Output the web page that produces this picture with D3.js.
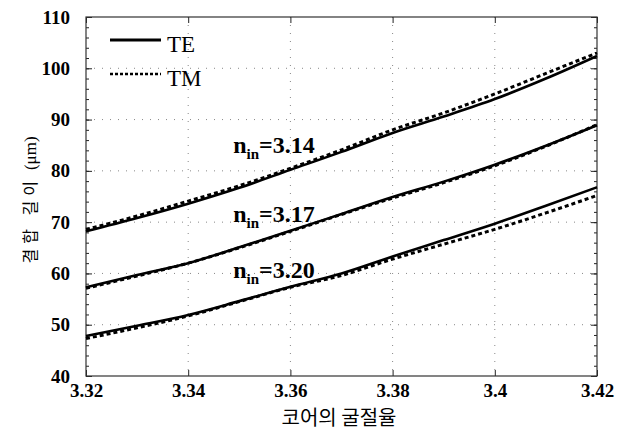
<!DOCTYPE html>
<html><head><meta charset="utf-8">
<script src="https://cdn.jsdelivr.net/npm/d3@7"></script>
<style>body{margin:0;background:#fff;-webkit-font-smoothing:antialiased}svg{display:block}</style>
</head><body>
<svg id="c" width="626" height="437"></svg>
<script>
const xValues = [3.32,3.33,3.34,3.35,3.36,3.37,3.38,3.39,3.40,3.41,3.42];
const te314 = [68.2,70.8,73.6,76.7,80.2,83.7,87.4,90.6,94.0,98.0,102.4];
const tm314 = [68.6,71.2,74.1,77.1,80.5,84.1,88.0,91.3,95.0,99.0,103.0];
const te317 = [57.3,59.7,62.0,65.1,68.3,71.6,74.9,77.9,81.2,84.9,88.9];
const tm317 = [57.1,59.5,62.0,65.0,68.2,71.5,74.7,77.7,81.0,84.8,89.0];
const te320 = [47.8,49.8,51.9,54.6,57.4,60.0,63.3,66.5,69.7,73.2,76.8];
const tm320 = [47.3,49.4,51.7,54.5,57.3,59.6,62.8,65.7,68.6,71.8,75.2];
const xTicks = [3.32,3.34,3.36,3.38,3.40,3.42];
const xTickLabels = ["3.32","3.34","3.36","3.38","3.4","3.42"];
const yTicks = [40,50,60,70,80,90,100,110];
const legendNames = ["TE","TM"];
const annoLabels = ["3.14","3.17","3.20"];
const annoAt = [[3.3488,83.4],[3.3488,70.1],[3.3488,59.1]];
const xTitle = "코어의 굴절율";
const yTitleKo = "결합 길이";
const yTitleUnit = "(μm)";

const svg = d3.select("#c");
const L=86,R=597,T=17,B=376;
const x = d3.scaleLinear().domain([3.32,3.42]).range([L,R]);
const y = d3.scaleLinear().domain([40,110]).range([B,T]);
const serif = "'Liberation Serif','Times New Roman',serif";
const sans = "'Noto Sans CJK KR','Noto Sans',sans-serif";

// grid
const g = svg.append("g");
g.selectAll(".gx").data(xTicks.slice(1,-1)).join("line")
  .attr("x1",d=>x(d)).attr("x2",d=>x(d)).attr("y1",T).attr("y2",B)
  .attr("stroke","#888").attr("stroke-width",1).attr("stroke-dasharray","1,7");
g.selectAll(".gy").data(yTicks.slice(1,-1)).join("line")
  .attr("x1",L).attr("x2",R).attr("y1",d=>y(d)).attr("y2",d=>y(d))
  .attr("stroke","#888").attr("stroke-width",1).attr("stroke-dasharray","1,7");

// axes with inward ticks
const minorY = d3.range(40,110.1,2);
svg.append("g").attr("transform",`translate(0,${B})`)
  .call(d3.axisBottom(x).tickValues(xTicks).tickSize(-6).tickFormat((d,i)=>xTickLabels[i]))
  .call(a=>{a.select(".domain").remove();a.selectAll("text").attr("y",8).attr("dy","0.68em")});
svg.append("g").attr("transform",`translate(0,${T})`)
  .call(d3.axisTop(x).tickValues(xTicks).tickSize(-6).tickFormat(""))
  .call(a=>a.select(".domain").remove());
svg.append("g").attr("transform",`translate(${L},0)`)
  .call(d3.axisLeft(y).tickValues(minorY).tickSize(-3).tickFormat(""))
  .call(a=>a.select(".domain").remove());
svg.append("g").attr("transform",`translate(${R},0)`)
  .call(d3.axisRight(y).tickValues(minorY).tickSize(-3).tickFormat(""))
  .call(a=>a.select(".domain").remove());
svg.append("g").attr("transform",`translate(${L},0)`)
  .call(d3.axisLeft(y).tickValues(yTicks).tickSize(-6).tickPadding(16).tickFormat(d3.format("d")))
  .call(a=>a.select(".domain").remove());
svg.append("g").attr("transform",`translate(${R},0)`)
  .call(d3.axisRight(y).tickValues(yTicks).tickSize(-6).tickFormat(""))
  .call(a=>a.select(".domain").remove());
svg.selectAll(".tick line").attr("stroke","#222");
svg.selectAll(".tick text").attr("font-family",serif).attr("font-weight","bold").attr("font-size",19).attr("fill","#000");

svg.append("rect").attr("x",L).attr("y",T).attr("width",R-L).attr("height",B-T)
  .attr("fill","none").attr("stroke","#333").attr("stroke-width",1.2);

// curves
const line = d3.line().x((d,i)=>x(xValues[i])).y(d=>y(d)).curve(d3.curveMonotoneX);
const teSeries=[te314,te317,te320], tmSeries=[tm314,tm317,tm320];
svg.append("g").selectAll("path").data(teSeries).join("path")
  .attr("d",line).attr("fill","none").attr("stroke","#000").attr("stroke-width",2.6);
svg.append("g").selectAll("path").data(tmSeries).join("path")
  .attr("d",line).attr("fill","none").attr("stroke","#000").attr("stroke-width",3).attr("stroke-dasharray","4,3");

// legend
const leg = svg.append("g");
[0,1].forEach(i=>{
  const ly = 40 + i*34;
  leg.append("line").attr("x1",110).attr("x2",161).attr("y1",ly).attr("y2",ly)
    .attr("stroke","#000").attr("stroke-width",i?2.6:3).attr("stroke-dasharray",i?"3,2":null);
  leg.append("text").attr("x",167).attr("y",ly+12).text(legendNames[i])
    .attr("font-family",serif).attr("font-size",23).attr("fill","#000");
});

// annotations
annoLabels.forEach((lab,i)=>{
  const t = svg.append("text").attr("x",x(annoAt[i][0])).attr("y",y(annoAt[i][1]))
    .attr("font-family",serif).attr("font-weight","bold").attr("font-size",24).attr("fill","#000");
  t.append("tspan").text("n");
  t.append("tspan").attr("font-size",15).attr("dy",6).text("in");
  t.append("tspan").attr("dy",-6).text("="+lab);
});

// axis titles
svg.append("text").attr("x",339).attr("y",425).attr("text-anchor","middle")
  .attr("font-family",sans).attr("font-size",20).attr("fill","#000").text(xTitle);
const yt = svg.append("g").attr("opacity",0.99).append("text")
  .attr("transform","translate(36,200) rotate(-90)").attr("text-anchor","middle")
  .attr("fill","#000");
yt.append("tspan").attr("font-family",sans).attr("font-size",16).attr("letter-spacing",5).text(yTitleKo);
yt.append("tspan").attr("font-family",serif).attr("font-size",17).attr("dx",6).text(yTitleUnit);
</script>
</body></html>
